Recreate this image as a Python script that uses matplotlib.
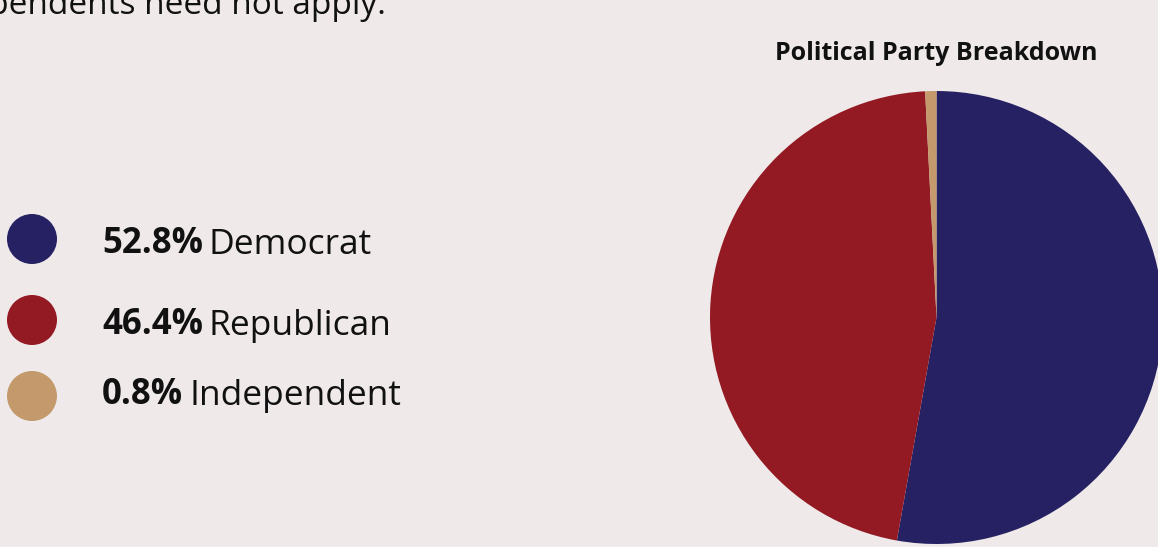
import matplotlib.pyplot as plt
from matplotlib.patches import Circle

plt.rcParams["font.family"] = ["Open Sans", "DejaVu Sans"]

parties = ["Democrat", "Republican", "Independent"]
shares = [52.8, 46.4, 0.8]
colors = ["#262163", "#931923", "#c49a6c"]
caption = "Independents need not apply."
title = "Political Party Breakdown"

bg = "#efe9e9"
W, H = 1158, 547

fig = plt.figure(figsize=(W / 100, H / 100), dpi=100, facecolor=bg)

# overlay axes in pixel units for the legend and loose text
page = fig.add_axes([0, 0, 1, 1])
page.set_xlim(0, W)
page.set_ylim(H, 0)
page.set_aspect("equal")
page.axis("off")

page.text(386, 14, caption, ha="right", va="baseline", fontsize=24, color="#111111")

dot_y = [239, 320, 396]
text_y = [253, 334, 404]
for name, share, color, cy, ty in zip(parties, shares, colors, dot_y, text_y):
    page.add_patch(Circle((32, cy), 25, color=color, lw=0))
    pct = page.text(102, ty, f"{share:.1f}%", ha="left", va="baseline",
                    fontsize=25, fontweight="bold", color="#111111")
    page.annotate(name, xy=(1, 0), xycoords=pct, xytext=(6, 0),
                  textcoords="offset pixels", ha="left", va="bottom",
                  fontsize=25.5, color="#111111")

page.text(936.5, 60, title, ha="center", va="baseline", fontsize=18,
          fontweight="bold", color="#111111")

# pie: center (936.5, 317.5) px, radius 226.5 px
cx, cy, r = 936.5, 317.5, 226.5
ax = fig.add_axes([(cx - r) / W, (H - cy - r) / H, 2 * r / W, 2 * r / H])
ax.pie(shares, colors=colors, startangle=90, counterclock=False,
       radius=1, wedgeprops=dict(linewidth=0))
ax.set_xlim(-1, 1)
ax.set_ylim(-1, 1)
ax.set_aspect("equal")
ax.axis("off")

fig.savefig("out.png", dpi=100, facecolor=bg)
